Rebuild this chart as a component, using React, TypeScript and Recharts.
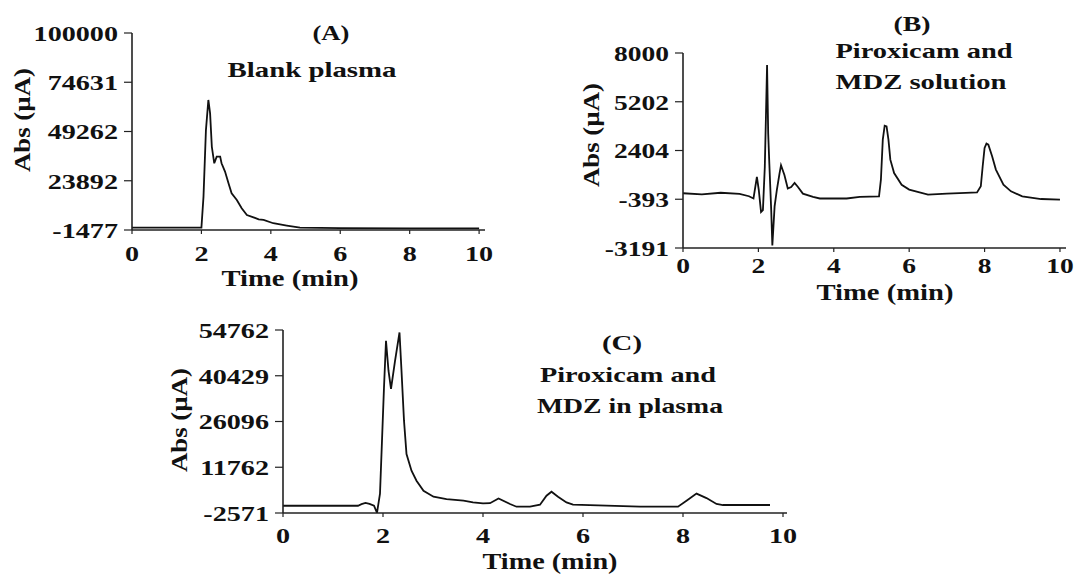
import React from 'react';
import { LineChart, Line, XAxis, YAxis } from 'recharts';

const FONT = '"Liberation Serif", "Times New Roman", serif';
const INK = '#111';

// shared time axis
const timeTicks = [0, 2, 4, 6, 8, 10];

// (A) blank plasma
const timeA = [0, 1, 2.0, 2.06, 2.13, 2.2, 2.25, 2.3, 2.37, 2.44, 2.54, 2.58, 2.68, 2.78, 2.87, 3.02, 3.16, 3.31, 3.5, 3.65, 3.79, 4.07, 4.46, 4.84, 6, 8, 10];
const absA = [-300, -300, -300, 15700, 50000, 65500, 58600, 41400, 32900, 36300, 36300, 32900, 28600, 22600, 17400, 14000, 9700, 6250, 5050, 4000, 3700, 2000, 760, -300, -500, -600, -600];
const yTicksA = [100000, 74631, 49262, 23892, -1477];

// (B) piroxicam and MDZ solution
const timeB = [0, 0.5, 1.0, 1.5, 1.75, 1.87, 1.96, 2.01, 2.07, 2.12, 2.17, 2.2, 2.23, 2.26, 2.29, 2.34, 2.37, 2.43, 2.49, 2.56, 2.6, 2.69, 2.78, 2.87, 2.96, 3.05, 3.18, 3.45, 3.63, 4.34, 4.69, 5.2, 5.25, 5.3, 5.35, 5.4, 5.45, 5.5, 5.6, 5.8, 6.0, 6.5, 7, 7.5, 7.8, 7.9, 7.95, 8.0, 8.05, 8.1, 8.2, 8.3, 8.5, 8.7, 9, 9.5, 10];
const absB = [-50, -110, -20, -80, -220, -350, 890, 140, -1120, -1010, 1460, 4340, 7310, 3380, 1660, -1010, -3040, -800, 140, 1080, 1560, 1000, 220, 310, 540, 310, -70, -260, -350, -350, -260, -230, 730, 3030, 3830, 3790, 3030, 1880, 1110, 440, 160, -130, -70, -30, 0, 350, 1500, 2550, 2800, 2740, 2070, 1310, 440, 60, -230, -380, -420];
const yTicksB = [8000, 5202, 2404, -393, -3191];

// (C) piroxicam and MDZ in plasma
const timeC = [0, 1.5, 1.57, 1.65, 1.73, 1.82, 1.88, 1.94, 1.97, 2.02, 2.06, 2.11, 2.16, 2.24, 2.33, 2.37, 2.42, 2.47, 2.57, 2.67, 2.81, 3.01, 3.27, 3.61, 3.8, 4.0, 4.14, 4.31, 4.54, 4.67, 4.94, 5.14, 5.27, 5.37, 5.5, 5.67, 5.8, 6.47, 7.14, 7.9, 8.07, 8.27, 8.47, 8.67, 8.8, 9.74];
const absC = [-300, -300, 200, 600, 300, -300, -2500, 3500, 16000, 36800, 51400, 42000, 36300, 45000, 54000, 42000, 26350, 15900, 10700, 7550, 4400, 2540, 1800, 1280, 750, 440, 500, 2000, 250, -600, -600, 30, 2850, 4100, 2540, 750, 30, -280, -600, -600, 1280, 3500, 2100, 250, -70, -70];
const yTicksC = [54762, 40429, 26096, 11762, -2571];

const toRows = (t: number[], v: number[]) => t.map((x, i) => ({ t: x, abs: v[i] }));

const YTick = (p: any) => (
  <g transform={`translate(${p.x},${p.y}) scale(${p.sx},1)`}>
    <text x={0} y={0} dy="0.36em" textAnchor="end" fontFamily={FONT} fontWeight="bold" fontSize={p.fs} fill={INK}>
      {p.payload.value}
    </text>
  </g>
);

const XTick = (p: any) => (
  <g transform={`translate(${p.x},${p.y}) scale(${p.sx},1)`}>
    <text x={0} y={0} dy="0.71em" textAnchor="middle" fontFamily={FONT} fontWeight="bold" fontSize={p.fs} fill={INK}>
      {p.payload.value}
    </text>
  </g>
);

interface PanelProps {
  left: number;
  top: number;
  width: number;
  height: number;
  yWidth: number;
  right: number;
  plotTop: number;
  xHeight: number;
  xMax: number;
  xGap: number;
  fs: number;
  sx: number;
  yTicks: number[];
  rows: { t: number; abs: number }[];
}

function Panel({ left, top, width, height, yWidth, right, plotTop, xHeight, xMax, xGap, fs, sx, yTicks, rows }: PanelProps) {
  const axisStyle = { stroke: '#222', strokeWidth: 1.6 };
  return (
    <div style={{ position: 'absolute', left, top }}>
      <LineChart width={width} height={height} data={rows} margin={{ top: plotTop, right, bottom: 0, left: 0 }}>
        <XAxis
          dataKey="t"
          type="number"
          domain={[0, xMax]}
          ticks={timeTicks}
          interval={0}
          allowDataOverflow
          height={xHeight}
          tickSize={4}
          tickMargin={xGap}
          axisLine={axisStyle}
          tickLine={{ stroke: '#222', strokeWidth: 1.2 }}
          tick={(p: any) => <XTick {...p} fs={fs} sx={sx} />}
        />
        <YAxis
          type="number"
          domain={[yTicks[yTicks.length - 1], yTicks[0]]}
          ticks={yTicks}
          interval={0}
          allowDataOverflow
          width={yWidth}
          tickSize={8}
          tickMargin={6}
          axisLine={axisStyle}
          tickLine={{ stroke: '#222', strokeWidth: 1.2 }}
          tick={(p: any) => <YTick {...p} fs={fs} sx={sx} />}
        />
        <Line dataKey="abs" type="linear" stroke={INK} strokeWidth={1.8} dot={false} isAnimationActive={false} />
      </LineChart>
    </div>
  );
}

function Caption({ x, y, w, size = 21, children }: { x: number; y: number; w: number; size?: number; children: React.ReactNode }) {
  return (
    <text x={x} y={y} textAnchor="middle" fontFamily={FONT} fontWeight="bold" fontSize={size} fill={INK} textLength={w} lengthAdjust="spacingAndGlyphs">
      {children}
    </text>
  );
}

function AbsLabel({ x, y }: { x: number; y: number }) {
  return (
    <text
      transform={`translate(${x},${y}) rotate(-90)`}
      textAnchor="middle"
      dy="0.35em"
      fontFamily={FONT}
      fontWeight="bold"
      fontSize={24}
      fill={INK}
      textLength={104}
      lengthAdjust="spacingAndGlyphs"
    >
      Abs (µA)
    </text>
  );
}

export default function App() {
  return (
    <div style={{ position: 'relative', width: 1076, height: 577, background: '#fff', overflow: 'hidden' }}>
      <style>{'body{margin:0}'}</style>

      <Panel left={0} top={0} width={540} height={300} yWidth={132} right={55} plotTop={33} xHeight={70} xMax={10.17} xGap={11} fs={22} sx={1.28} yTicks={yTicksA} rows={toRows(timeA, absA)} />
      <Panel left={540} top={0} width={536} height={310} yWidth={143} right={10} plotTop={53} xHeight={62} xMax={10.16} xGap={5} fs={22} sx={1.25} yTicks={yTicksB} rows={toRows(timeB, absB)} />
      <Panel left={160} top={300} width={660} height={277} yWidth={123} right={33} plotTop={30} xHeight={64} xMax={10.08} xGap={10} fs={22} sx={1.28} yTicks={yTicksC} rows={toRows(timeC, absC)} />

      <svg width={1076} height={577} style={{ position: 'absolute', left: 0, top: 0, pointerEvents: 'none' }}>
        {/* (A) */}
        <Caption x={331} y={40} w={37}>(A)</Caption>
        <Caption x={312} y={77} w={169}>Blank plasma</Caption>
        <Caption x={290} y={286} w={137} size={24}>Time (min)</Caption>
        <AbsLabel x={22} y={120} />

        {/* (B) */}
        <Caption x={912} y={31} w={37}>(B)</Caption>
        <Caption x={924} y={58} w={177}>Piroxicam and</Caption>
        <Caption x={921} y={89} w={171}>MDZ solution</Caption>
        <Caption x={885} y={300} w={137} size={23}>Time (min)</Caption>
        <AbsLabel x={591} y={135} />

        {/* (C) */}
        <Caption x={622} y={350} w={40}>(C)</Caption>
        <Caption x={628} y={382} w={176}>Piroxicam and</Caption>
        <Caption x={630} y={413} w={186}>MDZ in plasma</Caption>
        <Caption x={550} y={569} w={135} size={24}>Time (min)</Caption>
        <AbsLabel x={179} y={420} />
      </svg>
    </div>
  );
}
